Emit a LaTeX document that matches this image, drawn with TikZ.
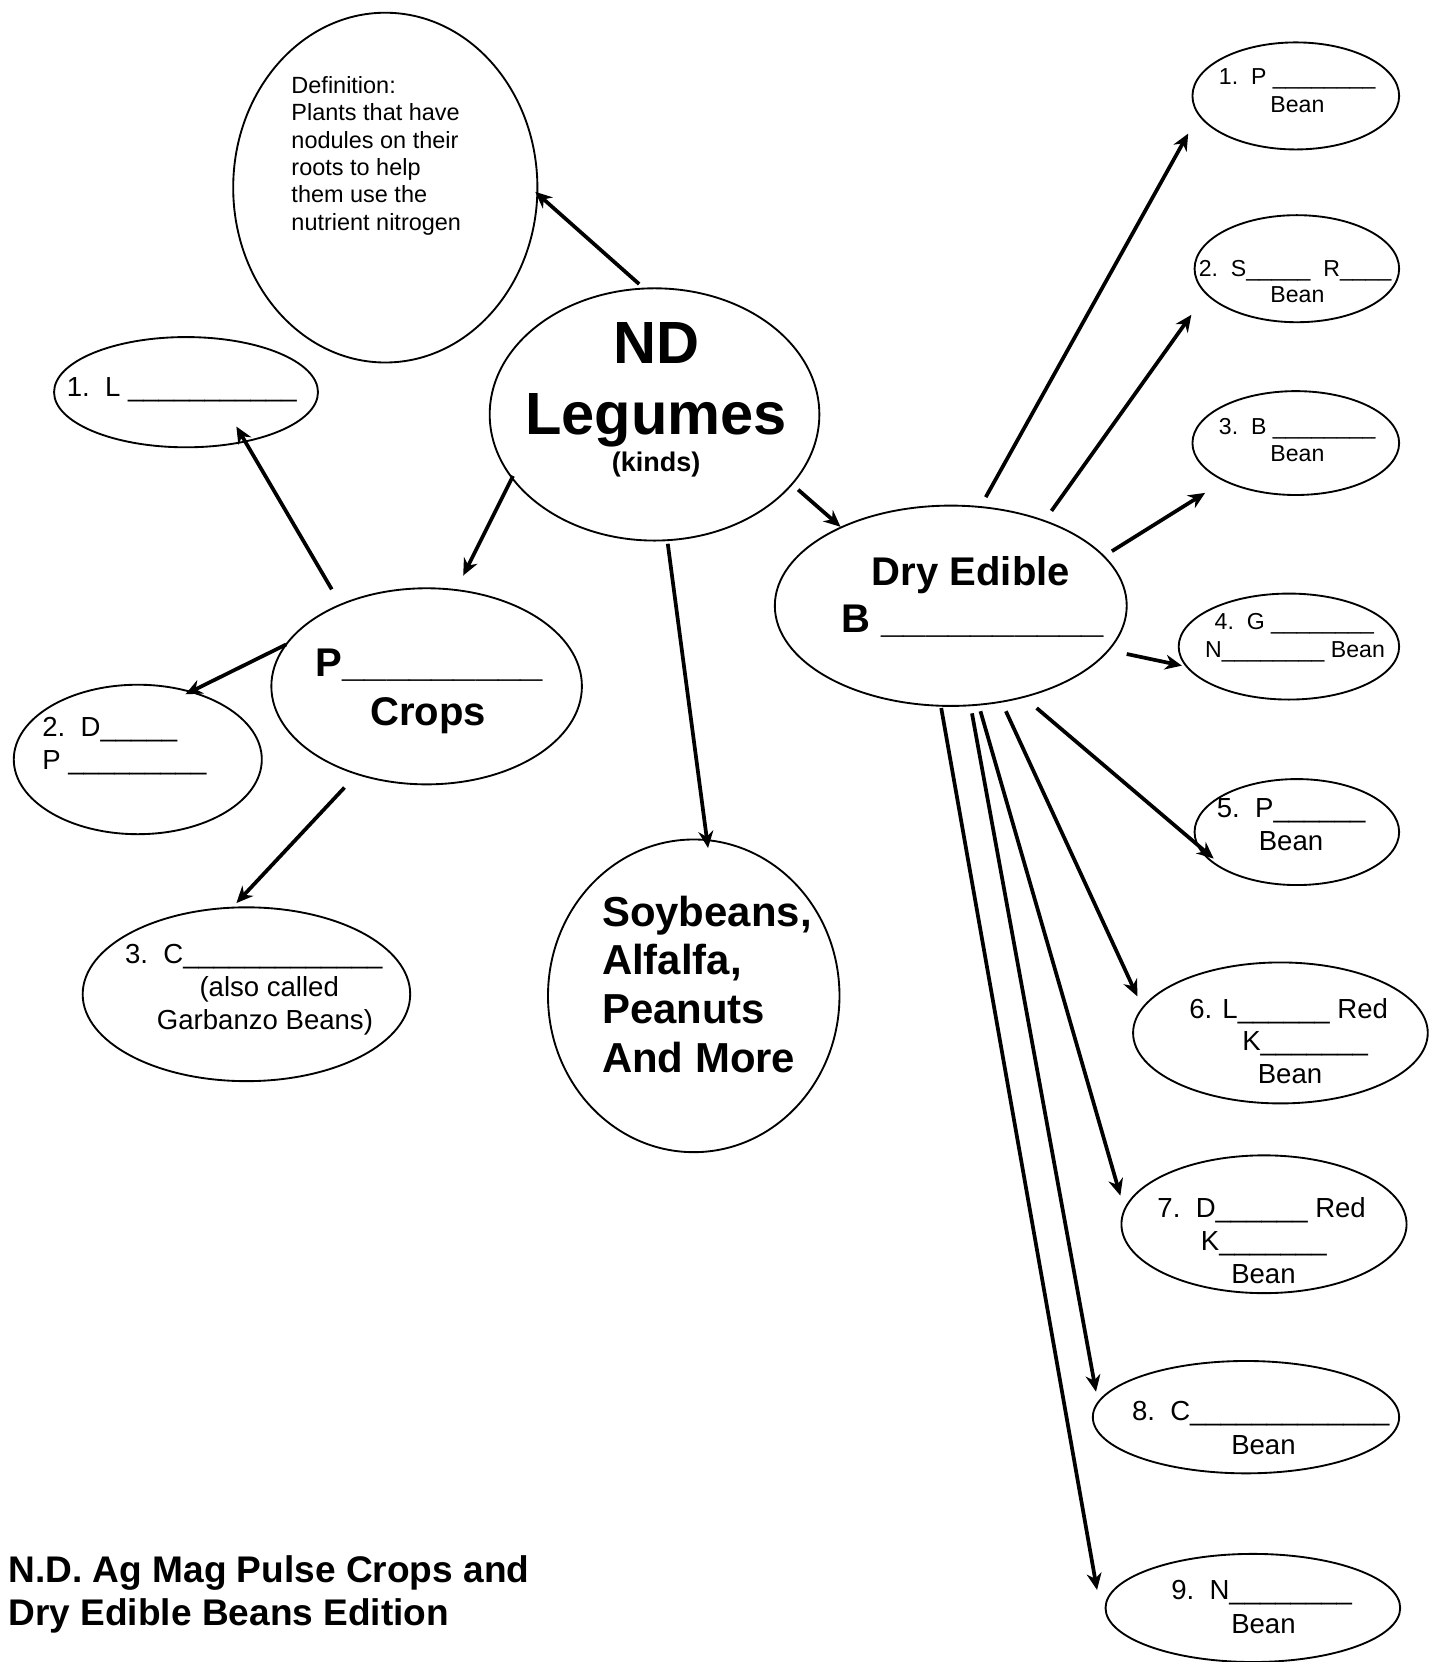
\documentclass[tikz,border=0pt]{standalone}
\usepackage{fontspec}
\setmainfont{Liberation Sans}
\usetikzlibrary{arrows.meta,calc,shapes.geometric}
\newcommand{\fDef}{\fontsize{12.6}{14.7}\selectfont}
\newcommand{\fBig}{\fontsize{32}{38}\selectfont\bfseries}
\newcommand{\fKinds}{\fontsize{14.5}{17}\selectfont\bfseries}
\newcommand{\fLab}{\fontsize{14.8}{17.5}\selectfont}
\newcommand{\fSm}{\fontsize{12.4}{14.5}\selectfont}
\newcommand{\fMid}{\fontsize{21.5}{25}\selectfont\bfseries}
\newcommand{\fSoy}{\fontsize{22.5}{26.2}\selectfont\bfseries}
\newcommand{\fTitle}{\fontsize{19.9}{23.3}\selectfont\bfseries}
\newcount\uscount
\newcommand{\usline}[1]{\uscount=#1\relax\loop\ifnum\uscount>0 \_\advance\uscount-1 \repeat}
\tikzset{
  bub/.style={draw, ellipse, line width=1pt, inner sep=0pt, outer sep=0pt},
  wh/.style 2 args={minimum width=#1*0.02cm, minimum height=#2*0.02cm},
  txt/.style={inner sep=0pt, outer sep=0pt},
  arr/.style={line width=2pt, -{Stealth[length=9pt,width=8pt]}}
}
\begin{document}
\begin{tikzpicture}[x=0.02cm,y=-0.02cm]
\fill[white] (0,0) rectangle (1359,1568);
\useasboundingbox (0,0) rectangle (1359,1568);

% ellipses
\node[bub, wh={287}{330}] (def) at (363.5,177) {};
\node[bub, wh={311}{238}] (nd) at (617.5,391) {};
\node[bub, wh={249}{104}] (l1) at (175.5,370) {};
\node[bub, wh={293}{185}] (crops) at (402.5,647.5) {};
\node[bub, wh={234}{141}] (d2) at (130,716.5) {};
\node[bub, wh={309}{164}] (c3) at (232.5,938) {};
\node[bub, wh={275}{295}] (soy) at (654.5,939.5) {};
\node[bub, wh={332}{189}] (dry) at (897,571.5) {};
\node[bub, wh={195}{101}] (r1) at (1222.5,90.5) {};
\node[bub, wh={193}{101}] (r2) at (1223.5,253.5) {};
\node[bub, wh={195}{98}] (r3) at (1222.5,418) {};
\node[bub, wh={208}{100}] (r4) at (1216,610) {};
\node[bub, wh={193}{100}] (r5) at (1223.5,785) {};
\node[bub, wh={278}{133}] (r6) at (1208,974.5) {};
\node[bub, wh={269}{130}] (r7) at (1192.5,1155) {};
\node[bub, wh={289}{106}] (r8) at (1175.5,1337) {};
\node[bub, wh={278}{102}] (r9) at (1182,1517) {};

% texts
\node[txt, anchor=north west, align=left, font=\fDef] (deft) at (275,72) {Definition:\\Plants that have\\nodules on their\\roots to help\\them use the\\nutrient nitrogen};
\node[txt, anchor=base, font=\fBig] (ndt1) at (619,343) {ND};
\node[txt, anchor=base, font=\fBig] (ndt2) at (619,410) {Legumes};
\node[txt, anchor=base, font=\fKinds] (ndt3) at (619,445) {(kinds)};

\node[txt, anchor=base west, font=\fMid] (cropt1) at (298,638) {P\usline{9}};
\node[txt, anchor=base, font=\fMid] (cropt2) at (404,684) {Crops};
\node[txt, anchor=base, font=\fMid] (dryt1) at (916,552) {Dry Edible};
\node[txt, anchor=base west, font=\fMid] (dryt2) at (794,597) {B \usline{10}};

\node[txt, anchor=base west, font=\fLab] (l1t) at (63,374) {1.\ \ L \usline{11}};
\node[txt, anchor=base west, font=\fLab] (d2t1) at (40,695) {2.\ \ D\usline{5}};
\node[txt, anchor=base west, font=\fLab] (d2t2) at (40,726) {P \usline{9}};
\node[txt, anchor=base west, font=\fLab] (c3t1) at (118,909) {3.\ \ C\usline{13}};
\node[txt, anchor=base, font=\fLab] (c3t2) at (254,940) {(also called};
\node[txt, anchor=base, font=\fLab] (c3t3) at (250,971) {Garbanzo Beans)};

\node[txt, anchor=north west, align=left, font=\fSoy] (soyt) at (568,845) {Soybeans,\\Alfalfa,\\Peanuts\\And More};

\node[txt, anchor=base west, font=\fSm] (r1t1) at (1150,80) {1.\ \ P \usline{8}};
\node[txt, anchor=base, font=\fSm] (r1t2) at (1224,106) {Bean};
\node[txt, anchor=base west, font=\fSm] (r2t1) at (1131,261) {2.\ \ S\usline{5}\ \ R\usline{4}};
\node[txt, anchor=base, font=\fSm] (r2t2) at (1224,285) {Bean};
\node[txt, anchor=base west, font=\fSm] (r3t1) at (1150,410) {3.\ \ B \usline{8}};
\node[txt, anchor=base, font=\fSm] (r3t2) at (1224,435) {Bean};
\node[txt, anchor=base west, font=\fSm] (r4t1) at (1146,594) {4.\ \ G \usline{8}};
\node[txt, anchor=base west, font=\fSm] (r4t2) at (1137,620) {N\usline{8} Bean};
\node[txt, anchor=base west, font=\fLab] (r5t1) at (1148,771) {5.\ \ P\usline{6}};
\node[txt, anchor=base, font=\fLab] (r5t2) at (1218,802) {Bean};
\node[txt, anchor=base west, font=\fLab] (r6t1) at (1122,961) {6. L\usline{6} Red};
\node[txt, anchor=base west, font=\fLab] (r6t2) at (1172,991) {K\usline{7}};
\node[txt, anchor=base, font=\fLab] (r6t3) at (1217,1022) {Bean};
\node[txt, anchor=base west, font=\fLab] (r7t1) at (1092,1149) {7.\ \ D\usline{6} Red};
\node[txt, anchor=base west, font=\fLab] (r7t2) at (1133,1180) {K\usline{7}};
\node[txt, anchor=base, font=\fLab] (r7t3) at (1192,1211) {Bean};
\node[txt, anchor=base west, font=\fLab] (r8t1) at (1068,1340) {8.\ \ C\usline{13}};
\node[txt, anchor=base, font=\fLab] (r8t2) at (1192,1372) {Bean};
\node[txt, anchor=base west, font=\fLab] (r9t1) at (1105,1509) {9.\ \ N\usline{8}};
\node[txt, anchor=base, font=\fLab] (r9t2) at (1192,1541) {Bean};

\node[txt, anchor=base west, font=\fTitle] (title1) at (8,1493) {N.D. Ag Mag Pulse Crops and};
\node[txt, anchor=base west, font=\fTitle] (title2) at (8,1534) {Dry Edible Beans Edition};

% arrows
\draw[arr] ($(nd.center)+(-14.5,-123)$) -- ($(def.center)+(141.5,4)$);
\draw[arr] ($(nd.center)+(-133.5,58)$) -- ($(crops.center)+(34.5,-104.5)$);
\draw[arr] ($(nd.center)+(12.5,122)$) -- ($(soy.center)+(13.5,-139.5)$);
\draw[arr] ($(nd.center)+(135.5,71)$) -- ($(dry.center)+(-104,-74.5)$);
\draw[arr] ($(crops.center)+(-89.5,-91.5)$) -- ($(l1.center)+(47.5,32.4)$);
\draw[arr] ($(crops.center)+(-132.5,-39.5)$) -- ($(d2.center)+(45,-61.5)$);
\draw[arr] ($(crops.center)+(-77.5,95.5)$) -- ($(c3.center)+(-9.5,-86)$);
\draw[arr] ($(dry.center)+(33,-102.5)$) -- ($(r1.center)+(-101.5,35.5)$);
\draw[arr] ($(dry.center)+(95,-89.5)$) -- ($(r2.center)+(-99.5,43.5)$);
\draw[arr] ($(dry.center)+(152,-51.5)$) -- ($(r3.center)+(-85.5,47)$);
\draw[arr] ($(dry.center)+(166,45.5)$) -- ($(r4.center)+(-101,18)$);
\draw[arr] ($(dry.center)+(81,96.5)$) -- ($(r5.center)+(-78.5,25)$);
\draw[arr] ($(dry.center)+(52,99.5)$) -- ($(r6.center)+(-135,-34.5)$);
\draw[arr] ($(dry.center)+(28,99.5)$) -- ($(r7.center)+(-135.5,-27)$);
\draw[arr] ($(dry.center)+(20,101.5)$) -- ($(r8.center)+(-141.5,-24)$);
\draw[arr] ($(dry.center)+(-9,96.5)$) -- ($(r9.center)+(-147,-17)$);
\end{tikzpicture}
\end{document}
